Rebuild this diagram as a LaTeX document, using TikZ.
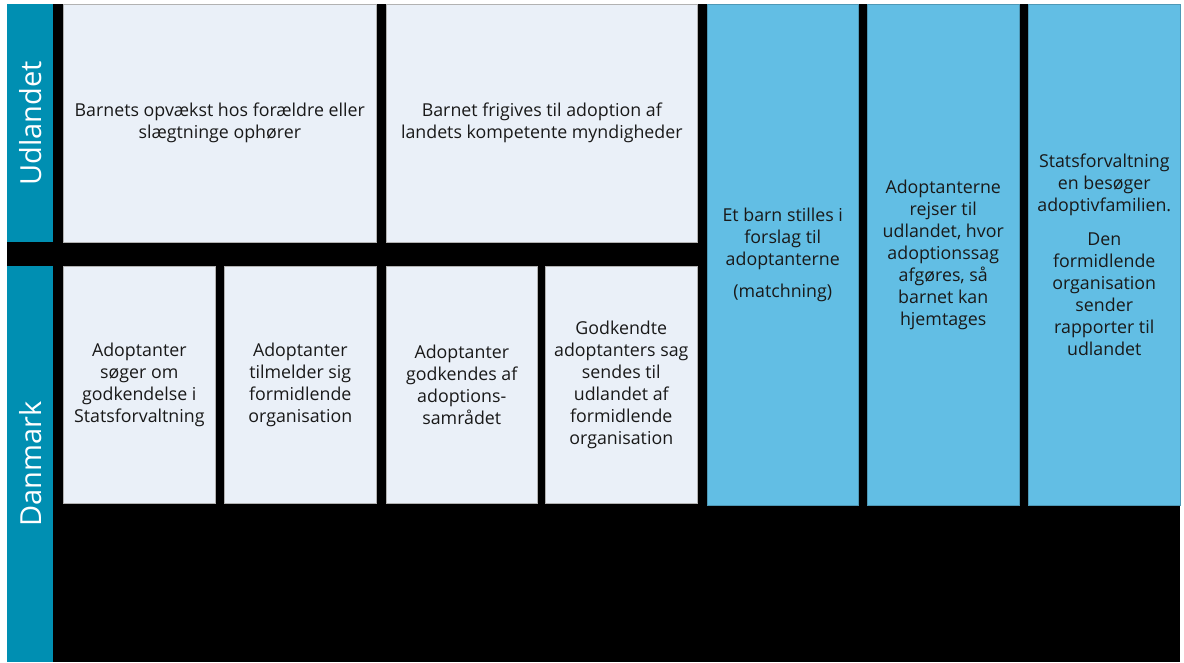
\documentclass[tikz,border=0pt]{standalone}
\usepackage{fontspec}
\setmainfont{Open Sans}
\definecolor{sidecol}{RGB}{0,143,178}
\definecolor{bluecol}{RGB}{98,190,228}
\definecolor{lightcol}{RGB}{234,240,248}
\definecolor{txtcol}{RGB}{25,25,25}
\begin{document}
\begin{tikzpicture}[x=1pt,y=-1pt,
  cell/.style={anchor=north west, inner sep=0pt, align=center, text=txtcol,
    font=\fontsize{17.8}{22}\selectfont},
  lightbox/.style={cell, fill=lightcol, draw=gray!60, line width=0.6pt},
  bluebox/.style={cell, fill=bluecol, draw=bluecol!80!black, line width=0.5pt},
  sidebar/.style={anchor=north west, inner sep=0pt, fill=sidecol},
  sidelabel/.style={rotate=90, text=white, font=\fontsize{29}{32}\selectfont}]
\useasboundingbox (0,0) rectangle (1184,662);
\fill[white] (0,0) rectangle (1184,662);
\fill[black] (7,4) rectangle (1180,662);
% sidebars
\node[sidebar, minimum width=46pt, minimum height=238pt] (sU) at (7,4) {};
\node[sidebar, minimum width=46pt, minimum height=396pt] (sD) at (7,266) {};
\node[sidelabel] (lU) at (sU.center) {Udlandet};
\node[sidelabel] (lD) at (sD.center) {Danmark};
% Udlandet boxes
\node[lightbox, minimum width=313pt, minimum height=238pt] (u1) at (63,4)
  {Barnets opvækst hos forældre eller\\slægtninge ophører};
\node[lightbox, minimum width=311pt, minimum height=238pt] (u2) at (386,4)
  {Barnet frigives til adoption af\\landets kompetente myndigheder};
% Danmark boxes
\node[lightbox, minimum width=152pt, minimum height=237pt] (d1) at (63,266)
  {Adoptanter\\søger om\\godkendelse i\\Statsforvaltning};
\node[lightbox, minimum width=152pt, minimum height=237pt] (d2) at (224,266)
  {Adoptanter\\tilmelder sig\\formidlende\\organisation};
\node[lightbox, minimum width=151pt, minimum height=237pt] (d3) at (386,266)
  {Adoptanter\\godkendes af\\adoptions-\\samrådet};
\node[lightbox, minimum width=152pt, minimum height=237pt] (d4) at (545,266)
  {Godkendte\\adoptanters sag\\sendes til\\udlandet af\\formidlende\\organisation};
% blue boxes
\node[bluebox, minimum width=151pt, minimum height=501pt] (b1) at (707,4)
  {Et barn stilles i\\forslag til\\adoptanterne\\[10pt](matchning)};
\node[bluebox, minimum width=152pt, minimum height=501pt] (b2) at (867,4)
  {Adoptanterne\\rejser til\\udlandet, hvor\\adoptionssag\\afgøres, så\\barnet kan\\hjemtages};
\node[bluebox, minimum width=152pt, minimum height=501pt] (b3) at (1028,4)
  {Statsforvaltning\\en besøger\\adoptivfamilien.\\[12pt]Den\\formidlende\\organisation\\sender\\rapporter til\\udlandet};
\end{tikzpicture}
\end{document}
